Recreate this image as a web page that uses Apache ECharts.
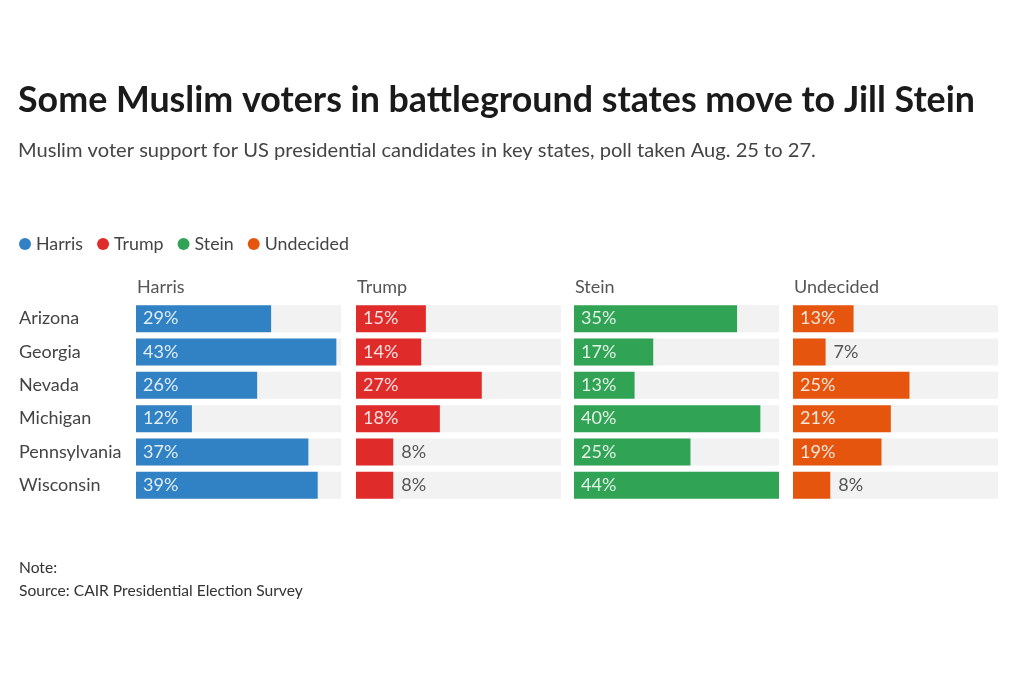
<!DOCTYPE html>
<html><head><meta charset="utf-8">
<script src="https://cdn.jsdelivr.net/npm/echarts@6/dist/echarts.min.js"></script>
<style>html,body{margin:0;padding:0;background:#fff}#c{width:1024px;height:682px}</style>
</head><body><div id="c"></div>
<script>
const states = ["Arizona","Georgia","Nevada","Michigan","Pennsylvania","Wisconsin"];
const candidates = ["Harris","Trump","Stein","Undecided"];
const harris = [29,43,26,12,37,39];
const trump = [15,14,27,18,8,8];
const stein = [35,17,13,40,25,44];
const undecided = [13,7,25,21,19,8];
const colors = ["#3182c4","#e02b2b","#31a354","#e6550d"];
const FONT = "Lato";
const values = [harris, trump, stein, undecided];
const lefts = [136, 356, 574, 793];
const W = 205, TOP = 302, H = 200;

const grids = [], xAxes = [], yAxes = [], series = [], titles = [];
titles.push({text:"Some Muslim voters in battleground states move to Jill Stein", left:18, top:82, padding:0,
  textStyle:{fontFamily:FONT, fontSize:35.8, fontWeight:"bold", color:"#1a1a1a"}});
titles.push({text:"Muslim voter support for US presidential candidates in key states, poll taken Aug. 25 to 27.", left:18, top:141, padding:0,
  textStyle:{fontFamily:FONT, fontSize:20.1, fontWeight:"normal", color:"#444"}});
titles.push({text:"Note:", left:19, top:560, padding:0, textStyle:{fontFamily:FONT, fontSize:15.6, fontWeight:"normal", color:"#333"}});
titles.push({text:"Source: CAIR Presidential Election Survey", left:19, top:583, padding:0, textStyle:{fontFamily:FONT, fontSize:15.6, fontWeight:"normal", color:"#333"}});
candidates.forEach((c,i)=>{
  grids.push({left:lefts[i], top:TOP, width:W, height:H});
  titles.push({text:c, left:lefts[i]+1, top:278, padding:0, textStyle:{fontFamily:FONT, fontSize:18, fontWeight:"normal", color:"#555"}});
  xAxes.push({type:"value", gridIndex:i, min:0, max:44, show:false});
  yAxes.push({type:"category", gridIndex:i, data:states, inverse:true,
    axisLine:{show:false}, axisTick:{show:false}, splitLine:{show:false},
    axisLabel:{show:i===0, align:"left", margin:117, fontFamily:FONT, fontSize:18, color:"#444"}});
  series.push({type:"bar", name:c, xAxisIndex:i, yAxisIndex:i, barWidth:27,
    itemStyle:{color:colors[i]},
    showBackground:true, backgroundStyle:{color:"#f2f2f2"},
    data: values[i].map(v=>({value:v, label: v<10 ?
      {show:true, position:"right", distance:8, color:"#555"} :
      {show:true, position:"insideLeft", distance:7, color:"rgba(255,255,255,0.85)"}})),
    label:{formatter:"{c}%", fontFamily:FONT, fontSize:18},
    emphasis:{disabled:true}, animation:false});
});

const chart = echarts.init(document.getElementById("c"));
chart.setOption({
  backgroundColor:"#fff",
  animation:false,
  title: titles,
  legend:{data:candidates, left:14, top:230, icon:"circle", itemWidth:12, itemHeight:12, itemGap:14,
    textStyle:{fontFamily:FONT, fontSize:17.8, color:"#444"}, selectedMode:false},
  grid: grids, xAxis: xAxes, yAxis: yAxes, series: series
});
</script></body></html>
